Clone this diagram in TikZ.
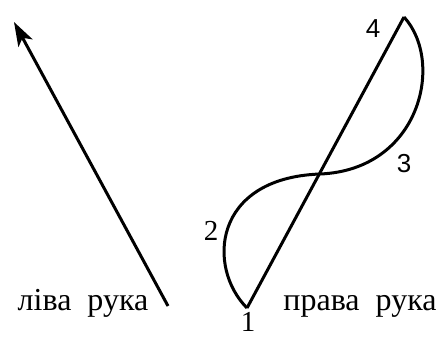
\documentclass[tikz,border=0pt]{standalone}
\usepackage{fontspec}
\setmainfont{Liberation Serif}
\newfontfamily\digitsans{Liberation Sans}
\usetikzlibrary{arrows.meta}

\begin{document}
\begin{tikzpicture}[x=1pt, y=-1pt, line width=3pt,
    hand/.style={font=\fontsize{32}{34}\selectfont, inner sep=0pt, anchor=base},
    num/.style={font=\fontsize{29}{31}\selectfont, inner sep=0pt, anchor=base},
    numsans/.style={font=\digitsans\fontsize{26}{28}\selectfont, inner sep=0pt, anchor=base}]
    \useasboundingbox (0,0) rectangle (441,338);
    % left hand
    \coordinate (lstart) at (168,306);
    \coordinate (lend) at (14,22);
    \draw[-{Stealth[length=24pt, width=16pt, inset=6pt]}] (lstart) -- (lend);
    \node[hand] (left) at (83,310) {ліва\ \ рука};
    % right hand
    \coordinate (p1) at (247,308);
    \coordinate (cross) at (320,174);
    \coordinate (p4) at (404,17);
    \draw (p1) -- (p4);
    \draw[line join=miter] (p1) .. controls (207,268) and (212,178) .. (cross)
        .. controls (420,170) and (445,62) .. (p4);
    \node[hand] (right) at (360,310) {права\ \ рука};
    \node[num] (n1) at (248,331) {1};
    \node[num] (n2) at (211,240) {2};
    \node[numsans] (n3) at (404,172) {3};
    \node[numsans] (n4) at (373,37) {4};
\end{tikzpicture}
\end{document}
